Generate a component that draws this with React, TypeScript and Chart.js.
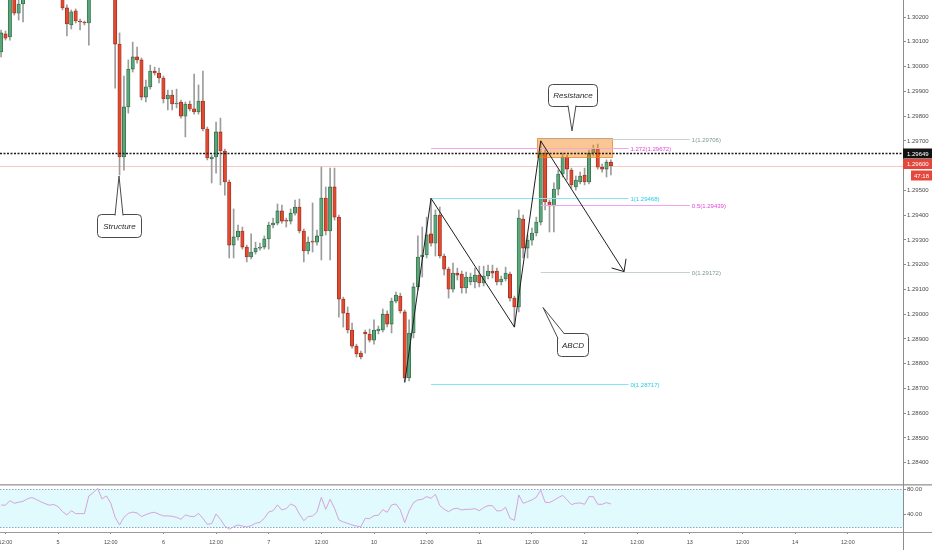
import React, { useEffect, useRef } from 'react';
import { Chart, registerables } from 'chart.js';

Chart.register(...registerables);

const FONT = '"Liberation Sans", Arial, sans-serif';

// hourly candles, first one is hour 11 of the 4th (hours counted from the 4th 00:00, weekend skipped)
const firstHour = 11;
const opens = [
  1.30059, 1.30132, 1.30120, 1.30301, 1.30216, 1.30253, 1.30293, 1.30330, 1.30360, 1.30340,
  1.30320, 1.30330, 1.30310, 1.30320, 1.30300, 1.30237, 1.30168, 1.30225, 1.30184, 1.30180,
  1.30176, 1.30289, 1.30320, 1.30360, 1.30310, 1.30330, 1.30290, 1.30091, 1.29635, 1.29837,
  1.29990, 1.30039, 1.30027, 1.29877, 1.29918, 1.29982, 1.29974, 1.29954, 1.29869, 1.29885,
  1.29849, 1.29857, 1.29800, 1.29849, 1.29829, 1.29817, 1.29861, 1.29748, 1.29627, 1.29635,
  1.29736, 1.29659, 1.29534, 1.29279, 1.29312, 1.29336, 1.29271, 1.29231, 1.29251, 1.29267,
  1.29271, 1.29304, 1.29360, 1.29368, 1.29417, 1.29380, 1.29376, 1.29408, 1.29433, 1.29336,
  1.29255, 1.29295, 1.29291, 1.29316, 1.29469, 1.29336, 1.29514, 1.29392, 1.29061, 1.29004,
  1.28936, 1.28871, 1.28843, 1.28928, 1.28920, 1.28895, 1.28932, 1.28936, 1.29000, 1.28960,
  1.29053, 1.29073, 1.29009, 1.28742, 1.28924, 1.29110, 1.29231, 1.29239, 1.29324, 1.29287,
  1.29400, 1.29235, 1.29182, 1.29101, 1.29166, 1.29162, 1.29106, 1.29130, 1.29130, 1.29158,
  1.29126, 1.29154, 1.29174, 1.29174, 1.29130, 1.29142, 1.29162, 1.29065, 1.29029, 1.29384,
  1.29267, 1.29299, 1.29328, 1.29372, 1.29651, 1.29453, 1.29437, 1.29505, 1.29566, 1.29635,
  1.29582, 1.29514, 1.29534, 1.29562, 1.29534, 1.29651, 1.29667, 1.29594, 1.29586, 1.29614,
];
const highs = [
  1.30148, 1.30144, 1.30301, 1.30317, 1.30269, 1.30309, 1.30340, 1.30380, 1.30390, 1.30370,
  1.30350, 1.30360, 1.30340, 1.30350, 1.30310, 1.30249, 1.30229, 1.30233, 1.30192, 1.30184,
  1.30310, 1.30340, 1.30380, 1.30370, 1.30350, 1.30340, 1.30300, 1.30136, 1.29962, 1.30027,
  1.30099, 1.30079, 1.30035, 1.29946, 1.30006, 1.29998, 1.29994, 1.29962, 1.29905, 1.29905,
  1.29909, 1.29865, 1.29857, 1.29861, 1.29970, 1.29926, 1.29982, 1.29756, 1.29643, 1.29776,
  1.29792, 1.29667, 1.29542, 1.29425, 1.29360, 1.29352, 1.29279, 1.29324, 1.29291, 1.29287,
  1.29316, 1.29372, 1.29388, 1.29445, 1.29441, 1.29388, 1.29425, 1.29461, 1.29465, 1.29344,
  1.29312, 1.29449, 1.29340, 1.29594, 1.29514, 1.29590, 1.29590, 1.29400, 1.29069, 1.29029,
  1.28964, 1.28879, 1.28851, 1.28936, 1.28940, 1.28977, 1.28952, 1.29021, 1.29013, 1.29065,
  1.29089, 1.29085, 1.29017, 1.28977, 1.29126, 1.29316, 1.29352, 1.29392, 1.29468, 1.29421,
  1.29433, 1.29243, 1.29190, 1.29206, 1.29186, 1.29174, 1.29170, 1.29166, 1.29186, 1.29194,
  1.29194, 1.29198, 1.29198, 1.29186, 1.29154, 1.29190, 1.29170, 1.29073, 1.29421, 1.29400,
  1.29320, 1.29348, 1.29392, 1.29700, 1.29663, 1.29461, 1.29530, 1.29582, 1.29651, 1.29643,
  1.29590, 1.29558, 1.29574, 1.29590, 1.29663, 1.29683, 1.29687, 1.29606, 1.29623, 1.29623,
];
const lows = [
  1.30039, 1.30107, 1.30107, 1.30208, 1.30188, 1.30180, 1.30280, 1.30310, 1.30320, 1.30300,
  1.30295, 1.30300, 1.30285, 1.30290, 1.30229, 1.30124, 1.30152, 1.30176, 1.30148, 1.30168,
  1.30087, 1.30275, 1.30300, 1.30300, 1.30290, 1.30280, 1.29913, 1.29562, 1.29582, 1.29812,
  1.29978, 1.30014, 1.29865, 1.29857, 1.29909, 1.29966, 1.29934, 1.29853, 1.29825, 1.29825,
  1.29833, 1.29792, 1.29716, 1.29821, 1.29808, 1.29808, 1.29740, 1.29623, 1.29530, 1.29570,
  1.29522, 1.29481, 1.29227, 1.29227, 1.29299, 1.29263, 1.29211, 1.29223, 1.29243, 1.29259,
  1.29263, 1.29263, 1.29348, 1.29360, 1.29368, 1.29352, 1.29364, 1.29400, 1.29328, 1.29211,
  1.29243, 1.29251, 1.29279, 1.29219, 1.29320, 1.29219, 1.29380, 1.28988, 1.28948, 1.28924,
  1.28863, 1.28827, 1.28819, 1.28843, 1.28887, 1.28879, 1.28920, 1.28928, 1.28948, 1.28924,
  1.29045, 1.29004, 1.28725, 1.28730, 1.28904, 1.29097, 1.29150, 1.29227, 1.29275, 1.29235,
  1.29227, 1.29158, 1.29065, 1.29089, 1.29138, 1.29085, 1.29085, 1.29118, 1.29106, 1.29110,
  1.29114, 1.29142, 1.29146, 1.29118, 1.29118, 1.29134, 1.29053, 1.28948, 1.29009, 1.29227,
  1.29227, 1.29279, 1.29316, 1.29360, 1.29421, 1.29332, 1.29332, 1.29481, 1.29554, 1.29542,
  1.29510, 1.29501, 1.29526, 1.29522, 1.29526, 1.29639, 1.29586, 1.29574, 1.29554, 1.29562,
];
const closes = [
  1.30136, 1.30115, 1.30289, 1.30216, 1.30253, 1.30293, 1.30330, 1.30360, 1.30340, 1.30320,
  1.30330, 1.30310, 1.30320, 1.30300, 1.30237, 1.30172, 1.30221, 1.30184, 1.30180, 1.30176,
  1.30289, 1.30320, 1.30360, 1.30310, 1.30330, 1.30290, 1.30091, 1.29635, 1.29837, 1.29990,
  1.30039, 1.30027, 1.29877, 1.29918, 1.29982, 1.29974, 1.29954, 1.29869, 1.29885, 1.29849,
  1.29853, 1.29800, 1.29849, 1.29829, 1.29817, 1.29861, 1.29748, 1.29631, 1.29635, 1.29736,
  1.29659, 1.29534, 1.29279, 1.29312, 1.29336, 1.29271, 1.29231, 1.29251, 1.29267, 1.29271,
  1.29304, 1.29360, 1.29368, 1.29417, 1.29376, 1.29376, 1.29408, 1.29433, 1.29336, 1.29255,
  1.29291, 1.29291, 1.29316, 1.29469, 1.29336, 1.29514, 1.29392, 1.29061, 1.29004, 1.28936,
  1.28871, 1.28839, 1.28827, 1.28920, 1.28895, 1.28936, 1.28940, 1.29000, 1.28960, 1.29053,
  1.29077, 1.29013, 1.28742, 1.28924, 1.29110, 1.29231, 1.29239, 1.29320, 1.29287, 1.29400,
  1.29235, 1.29182, 1.29101, 1.29166, 1.29158, 1.29106, 1.29150, 1.29150, 1.29158, 1.29126,
  1.29154, 1.29174, 1.29166, 1.29130, 1.29142, 1.29166, 1.29065, 1.29029, 1.29388, 1.29267,
  1.29299, 1.29328, 1.29372, 1.29651, 1.29453, 1.29437, 1.29505, 1.29566, 1.29635, 1.29586,
  1.29522, 1.29542, 1.29558, 1.29534, 1.29651, 1.29667, 1.29594, 1.29586, 1.29614, 1.29600,
];
const rsiValues = [
  55, 55, 62, 58, 59.5, 61, 65, 67, 64, 60.5,
  57.4, 55, 56, 52.6, 44.7, 39.5, 46.3, 41.6, 41.6, 41.6,
  69.5, 74.7, 81.6, 64.7, 69.5, 58, 35.8, 23.7, 35.8, 42,
  44, 42.6, 37, 40, 42.6, 43.7, 40.5, 38, 38, 37.4,
  35.8, 32.6, 39.5, 37.4, 36.8, 42, 34.2, 24.7, 25.8, 41,
  32.6, 22, 16.8, 21, 23.7, 22, 20.5, 22.6, 26.3, 27.9,
  34.2, 44.2, 46.3, 55.3, 47.4, 49.5, 56.8, 53.7, 41, 30.5,
  36.8, 37.9, 44.2, 67.4, 48.4, 64.2, 50, 31.6, 28.4, 26.3,
  23.7, 22, 21, 34.2, 33.7, 38.4, 39, 47.9, 43.7, 55.3,
  56.8, 47.4, 27.4, 46.3, 59, 63.2, 64.2, 68.4, 65.8, 72.1,
  54.2, 48.4, 44.7, 48.9, 50, 47.4, 48.4, 48.4, 49.5, 46.3,
  51, 54.2, 54.2, 45.8, 46.3, 51.6, 34.2, 31, 71, 57.9,
  60.5, 63.2, 67.4, 79, 59.5, 59, 62.6, 66.8, 70.5, 63.2,
  55.8, 58, 58.4, 56.3, 68.4, 68.4, 56.3, 56.3, 59, 56.8,
];

const priceTicks = [1.284, 1.285, 1.286, 1.287, 1.288, 1.289, 1.290, 1.291, 1.292, 1.293,
  1.294, 1.295, 1.296, 1.297, 1.298, 1.299, 1.300, 1.301, 1.302];
const rsiTicks = [40, 80];
const rsiBands = [20, 80];
const timeTickHours = [12, 24, 36, 48, 60, 72, 84, 96, 108, 120, 132, 144, 156, 168, 180, 192, 204];
const timeTickLabels = ['12:00', '5', '12:00', '6', '12:00', '7', '12:00', '10', '12:00', '11',
  '12:00', '12', '12:00', '13', '12:00', '14', '12:00'];

const X_MIN = 10.75;
const X_MAX = 216.58;
const P_MIN = 1.28314;
const P_MAX = 1.30269;
const R_MIN = 12.6;
const R_MAX = 83.6;

const lastPrice = 1.296;
const markPrice = 1.29649;
const countdown = '47:18';

// drawings
const zoneHours = [133.2, 150.3];
const zonePrices = [1.29635, 1.29712];
const fibAHours = [109, 154];
const fibARatios = ['0', '1', '1.272'];
const fibAPrices = [1.28717, 1.29468, 1.29672];
const fibAKinds = ['cyan', 'cyan', 'pink'];
const fibBHours = [134, 168];
const fibBRatios = ['0', '0.5', '1'];
const fibBPrices = [1.29172, 1.29439, 1.29706];
const fibBKinds = ['gray', 'pink', 'gray'];
const abcdHours = [103, 109, 128, 134, 153];
const abcdPrices = [1.28725, 1.29468, 1.28948, 1.29700, 1.29172];
const calloutTexts = ['Structure', 'Resistance', 'ABCD'];
const calloutHours = [37.88, 141.25, 141.25];
const calloutPrices = [1.29358, 1.29885, 1.28877];
const calloutTipHours = [37.88, 141.13, 134.52];
const calloutTipPrices = [1.29558, 1.29740, 1.29027];
const calloutSizes = [[44, 23], [49, 22], [31, 23]];

const GREEN = '#5ba678';
const GREEN_EDGE = '#2f6b49';
const RED = '#e24a30';
const RED_EDGE = '#a02d1d';
const WICK = '#9c9c9c';
const AXIS = '#8c8c8c';
const LABEL = '#4b4b4b';

const FIB_LINE: any = { cyan: '#84e7f3', pink: '#f2a4ec', gray: '#c6d0d3' };
const FIB_TEXT: any = { cyan: '#1fcfe6', pink: '#e444d6', gray: '#7b9894' };

function roundRect(ctx: any, x: number, y: number, w: number, h: number, r: number) {
  ctx.beginPath();
  ctx.moveTo(x + r, y);
  ctx.lineTo(x + w - r, y);
  ctx.arcTo(x + w, y, x + w, y + r, r);
  ctx.lineTo(x + w, y + h - r);
  ctx.arcTo(x + w, y + h, x + w - r, y + h, r);
  ctx.lineTo(x + r, y + h);
  ctx.arcTo(x, y + h, x, y + h - r, r);
  ctx.lineTo(x, y + r);
  ctx.arcTo(x, y, x + r, y, r);
  ctx.closePath();
}

function drawFib(ctx: any, X: any, Y: any, hours: number[], ratios: string[], prices: number[], kinds: string[]) {
  const x1 = X(hours[0]);
  const x2 = X(hours[1]);
  ctx.font = `6px ${FONT}`;
  ctx.textAlign = 'left';
  ctx.textBaseline = 'middle';
  for (let i = 0; i < prices.length; i++) {
    const yy = Math.round(Y(prices[i])) + 0.5;
    ctx.strokeStyle = FIB_LINE[kinds[i]];
    ctx.lineWidth = 1;
    ctx.beginPath();
    ctx.moveTo(x1, yy);
    ctx.lineTo(x2, yy);
    ctx.stroke();
    ctx.fillStyle = FIB_TEXT[kinds[i]];
    ctx.fillText(`${ratios[i]}(${prices[i].toFixed(5)})`, x2 + 2, yy + 0.5);
  }
}

function drawCallout(ctx: any, X: any, Y: any, i: number) {
  const [w, h] = calloutSizes[i];
  const cx = X(calloutHours[i]);
  const cy = Y(calloutPrices[i]);
  const tx = X(calloutTipHours[i]);
  const ty = Y(calloutTipPrices[i]);
  const left = Math.round(cx - w / 2) + 0.5;
  const top = Math.round(cy - h / 2) + 0.5;
  const right = left + w;
  const bottom = top + h;
  let a: number[];
  let b: number[];
  if (ty < top && tx > left + 6 && tx < right - 6) {
    a = [tx - 4, top + 1];
    b = [tx + 4, top + 1];
  } else if (ty > bottom && tx > left + 6 && tx < right - 6) {
    a = [tx - 4, bottom - 1];
    b = [tx + 4, bottom - 1];
  } else {
    a = [left + 0.5, top + 5];
    b = [left + 7, top + 0.5];
  }
  ctx.save();
  ctx.lineWidth = 1;
  ctx.strokeStyle = '#4a4a4a';
  ctx.fillStyle = '#ffffff';
  roundRect(ctx, left, top, w, h, 4);
  ctx.fill();
  ctx.stroke();
  ctx.beginPath();
  ctx.moveTo(a[0], a[1]);
  ctx.lineTo(tx, ty);
  ctx.lineTo(b[0], b[1]);
  ctx.closePath();
  ctx.fill();
  ctx.beginPath();
  ctx.moveTo(a[0], a[1]);
  ctx.lineTo(tx, ty);
  ctx.lineTo(b[0], b[1]);
  ctx.stroke();
  ctx.fillStyle = '#2a2a2a';
  ctx.font = `italic 8px ${FONT}`;
  ctx.textAlign = 'center';
  ctx.textBaseline = 'middle';
  ctx.fillText(calloutTexts[i], (left + right) / 2, (top + bottom) / 2 + 0.5);
  ctx.restore();
}

const mainOverlay = {
  id: 'mainOverlay',
  beforeDatasetsDraw(chart: any) {
    const { ctx, chartArea: a, scales } = chart;
    const yy = Math.round(scales.y.getPixelForValue(lastPrice)) + 0.5;
    ctx.save();
    ctx.strokeStyle = '#f6c7c3';
    ctx.lineWidth = 1;
    ctx.beginPath();
    ctx.moveTo(a.left, yy);
    ctx.lineTo(a.right, yy);
    ctx.stroke();
    ctx.restore();
  },
  afterDatasetsDraw(chart: any) {
    const { ctx, chartArea: a, scales } = chart;
    const X = (h: number) => scales.x.getPixelForValue(h);
    const Y = (p: number) => scales.y.getPixelForValue(p);
    ctx.save();
    ctx.beginPath();
    ctx.rect(a.left, a.top, a.right - a.left, a.bottom - a.top);
    ctx.clip();

    // resistance zone
    const zx1 = Math.round(X(zoneHours[0])) + 0.5;
    const zx2 = Math.round(X(zoneHours[1])) + 0.5;
    const zy1 = Math.round(Y(zonePrices[1])) + 0.5;
    const zy2 = Math.round(Y(zonePrices[0])) + 0.5;
    ctx.fillStyle = 'rgba(245,128,10,0.45)';
    ctx.fillRect(zx1, zy1, zx2 - zx1, zy2 - zy1);
    ctx.strokeStyle = 'rgba(238,128,30,0.75)';
    ctx.lineWidth = 1;
    ctx.strokeRect(zx1, zy1, zx2 - zx1, zy2 - zy1);

    drawFib(ctx, X, Y, fibAHours, fibARatios, fibAPrices, fibAKinds);
    drawFib(ctx, X, Y, fibBHours, fibBRatios, fibBPrices, fibBKinds);

    // mark price dotted line
    const my = Math.round(Y(markPrice)) + 0.5;
    ctx.strokeStyle = '#1c1c1c';
    ctx.lineWidth = 1.4;
    ctx.setLineDash([2, 1.5]);
    ctx.beginPath();
    ctx.moveTo(a.left, my);
    ctx.lineTo(a.right, my);
    ctx.stroke();
    ctx.setLineDash([]);

    // ABCD path
    ctx.strokeStyle = '#1e1e1e';
    ctx.lineWidth = 1;
    ctx.beginPath();
    abcdHours.forEach((h, i) => {
      const px = X(h);
      const py = Y(abcdPrices[i]);
      if (i === 0) ctx.moveTo(px, py);
      else ctx.lineTo(px, py);
    });
    ctx.stroke();
    const n = abcdHours.length;
    const ex = X(abcdHours[n - 1]);
    const ey = Y(abcdPrices[n - 1]);
    const sx = X(abcdHours[n - 2]);
    const sy = Y(abcdPrices[n - 2]);
    const ang = Math.atan2(ey - sy, ex - sx);
    ctx.beginPath();
    for (const d of [-1, 1]) {
      const a2 = ang + Math.PI + d * 0.72;
      ctx.moveTo(ex, ey);
      ctx.lineTo(ex + 13 * Math.cos(a2), ey + 13 * Math.sin(a2));
    }
    ctx.stroke();

    for (let i = 0; i < calloutTexts.length; i++) drawCallout(ctx, X, Y, i);
    ctx.restore();
  },
  afterDraw(chart: any) {
    const { ctx, chartArea: a, scales, width } = chart;
    const Y = (p: number) => scales.y.getPixelForValue(p);
    const x0 = a.right;
    const bw = width - x0;
    const my = Y(markPrice);
    ctx.save();
    ctx.font = `6px ${FONT}`;
    ctx.textBaseline = 'middle';
    ctx.textAlign = 'left';
    // mark price tag
    ctx.fillStyle = '#121212';
    ctx.fillRect(x0, my - 5, bw, 10);
    ctx.fillStyle = '#ffffff';
    ctx.fillText(markPrice.toFixed(5), x0 + 4, my + 0.5);
    // last price tag
    const ly = my + 5.5;
    ctx.fillStyle = '#e5473c';
    ctx.fillRect(x0, ly, bw, 10);
    ctx.fillStyle = '#ffffff';
    ctx.fillText(lastPrice.toFixed(5), x0 + 4, ly + 5.5);
    // countdown tag
    const cy = ly + 11.5;
    ctx.fillStyle = '#e5473c';
    ctx.fillRect(x0 + 8, cy, bw - 8, 10);
    ctx.fillStyle = '#ffffff';
    ctx.fillText(countdown, x0 + 11, cy + 5.5);
    ctx.restore();
  },
};

const rsiOverlay = {
  id: 'rsiOverlay',
  beforeDatasetsDraw(chart: any) {
    const { ctx, chartArea: a, scales } = chart;
    const yTop = Math.round(scales.y.getPixelForValue(rsiBands[1])) + 0.5;
    const yBot = Math.round(scales.y.getPixelForValue(rsiBands[0])) + 0.5;
    ctx.save();
    ctx.fillStyle = '#e0fafd';
    ctx.fillRect(0, yTop, a.right, yBot - yTop);
    ctx.strokeStyle = '#8ea4c4';
    ctx.lineWidth = 1;
    ctx.setLineDash([1.5, 1.5]);
    for (const yy of [yTop, yBot]) {
      ctx.beginPath();
      ctx.moveTo(0, yy);
      ctx.lineTo(a.right, yy);
      ctx.stroke();
    }
    ctx.restore();
  },
  afterDraw(chart: any) {
    const { ctx, chartArea: a, width, height } = chart;
    ctx.save();
    ctx.fillStyle = '#a9a9a9';
    ctx.fillRect(0, 0, width, 1.6);
    ctx.fillStyle = '#9a9a9a';
    ctx.fillRect(0, Math.round(a.bottom), width, 1);
    ctx.fillStyle = AXIS;
    ctx.fillRect(Math.round(a.right), 0, 1, height);
    ctx.restore();
  },
};

export default function App() {
  const mainRef = useRef<HTMLCanvasElement>(null);
  const rsiRef = useRef<HTMLCanvasElement>(null);

  useEffect(() => {
    document.body.style.margin = '0';
    Chart.defaults.font.family = FONT;

    const hours = opens.map((_, i) => firstHour + i);
    const wickData = hours.map((h, i) => ({ x: h, y: [lows[i], highs[i]] }));
    const bodyData = hours.map((h, i) => ({ x: h, y: [opens[i], closes[i]] }));
    const rsiData = hours.map((h, i) => ({ x: h, y: rsiValues[i] }));
    const up = (i: number) => closes[i] >= opens[i];

    const main = new Chart(mainRef.current as HTMLCanvasElement, {
      type: 'bar',
      data: {
        datasets: [
          {
            label: 'wick',
            data: wickData as any,
            backgroundColor: WICK,
            borderWidth: 0,
            barThickness: 1,
            grouped: false,
            order: 2,
          } as any,
          {
            label: 'body',
            data: bodyData as any,
            backgroundColor: (c: any) => (up(c.dataIndex) ? GREEN : RED),
            borderColor: (c: any) => (up(c.dataIndex) ? GREEN_EDGE : RED_EDGE),
            borderWidth: 0.8,
            borderSkipped: false,
            barThickness: 3.4,
            minBarLength: 1,
            grouped: false,
            order: 1,
          } as any,
        ],
      },
      options: {
        responsive: false,
        animation: false,
        events: [],
        layout: { padding: 0 },
        plugins: { legend: { display: false }, tooltip: { enabled: false } },
        scales: {
          x: {
            type: 'linear',
            min: X_MIN,
            max: X_MAX,
            display: false,
            offset: false,
            grid: { display: false, offset: false },
          },
          y: {
            type: 'linear',
            position: 'right',
            min: P_MIN,
            max: P_MAX,
            beginAtZero: false,
            afterBuildTicks: (s: any) => {
              s.ticks = priceTicks.map((v) => ({ value: v }));
            },
            afterFit: (s: any) => {
              s.width = 29;
              s.paddingTop = 0;
              s.paddingBottom = 0;
            },
            grid: { display: true, drawOnChartArea: false, drawTicks: true, tickLength: 3, color: AXIS },
            border: { display: true, color: AXIS },
            ticks: {
              padding: 1,
              color: LABEL,
              autoSkip: false,
              font: { size: 6, family: FONT },
              callback: (v: any) => Number(v).toFixed(5),
            },
          },
        } as any,
      },
      plugins: [mainOverlay],
    } as any);

    const rsi = new Chart(rsiRef.current as HTMLCanvasElement, {
      type: 'line',
      data: {
        datasets: [
          {
            data: rsiData as any,
            borderColor: '#d8a3da',
            borderWidth: 1,
            pointRadius: 0,
            tension: 0,
            fill: false,
          },
        ],
      },
      options: {
        responsive: false,
        animation: false,
        events: [],
        layout: { padding: { top: 3 } },
        plugins: { legend: { display: false }, tooltip: { enabled: false } },
        scales: {
          x: {
            type: 'linear',
            position: 'bottom',
            min: X_MIN,
            max: X_MAX,
            afterBuildTicks: (s: any) => {
              s.ticks = timeTickHours.map((v) => ({ value: v }));
            },
            afterFit: (s: any) => {
              s.height = 18;
              s.paddingLeft = 0;
              s.paddingRight = 0;
            },
            grid: { display: true, drawOnChartArea: false, drawTicks: true, tickLength: 2, color: AXIS },
            border: { display: false },
            ticks: {
              autoSkip: false,
              maxRotation: 0,
              minRotation: 0,
              padding: 5,
              color: LABEL,
              font: { size: 5.5, family: FONT },
              callback: (v: any) => {
                const k = timeTickHours.indexOf(Number(v));
                return k >= 0 ? timeTickLabels[k] : '';
              },
            },
          },
          y: {
            type: 'linear',
            position: 'right',
            min: R_MIN,
            max: R_MAX,
            afterBuildTicks: (s: any) => {
              s.ticks = rsiTicks.map((v) => ({ value: v }));
            },
            afterFit: (s: any) => {
              s.width = 29;
              s.paddingTop = 0;
              s.paddingBottom = 0;
            },
            grid: { display: true, drawOnChartArea: false, drawTicks: true, tickLength: 3, color: AXIS },
            border: { display: false },
            ticks: {
              padding: 1,
              color: LABEL,
              autoSkip: false,
              font: { size: 6, family: FONT },
              callback: (v: any) => Number(v).toFixed(2),
            },
          },
        } as any,
      },
      plugins: [rsiOverlay],
    } as any);

    return () => {
      main.destroy();
      rsi.destroy();
    };
  }, []);

  return (
    <div style={{ width: 932, height: 550, background: '#ffffff', position: 'relative', overflow: 'hidden' }}>
      <canvas ref={mainRef} width={932} height={484} style={{ display: 'block' }} />
      <canvas ref={rsiRef} width={932} height={66} style={{ display: 'block' }} />
    </div>
  );
}
